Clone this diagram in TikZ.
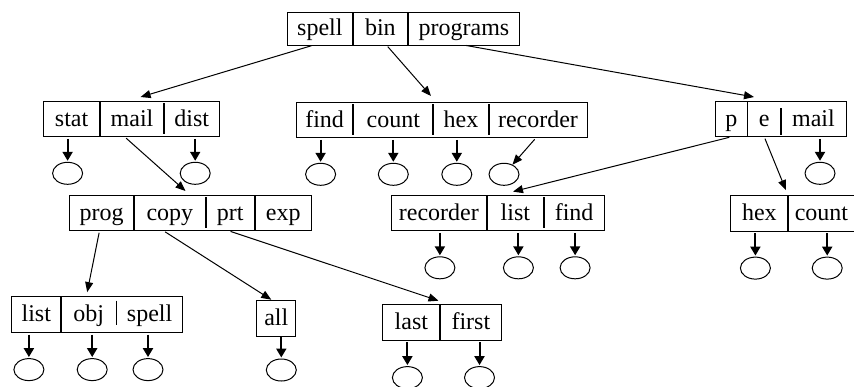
\documentclass[tikz,border=0pt]{standalone}
\usepackage{fontspec}
\setmainfont{Liberation Serif}
\usetikzlibrary{shapes,arrows.meta,positioning}

\begin{document}
\begin{tikzpicture}[x=0.5pt,y=-0.5pt,font=\fontsize{12}{14}\selectfont]
\tikzset{
cell/.style={rectangle, inner sep=0pt, minimum height=17.5pt, text height=9.5pt, text depth=2.3pt},
box/.style={draw, line width=0.5pt},
sep/.style={line width=1pt},
shortsep/.style={line width=1pt, shorten <=1.2pt, shorten >=1.5pt},
thinsep/.style={line width=0.5pt},
leaf/.style={ellipse, draw, line width=0.5pt, minimum width=15pt, minimum height=11pt, inner sep=0pt},
leafarrow/.style={-{Triangle[length=4.5pt,width=5pt]}, line width=1pt, shorten <=1pt, shorten >=0.5pt},
ptr/.style={-{Triangle[length=5pt,width=4pt]}, line width=0.5pt, shorten <=1pt},
}
\useasboundingbox (0,0) rectangle (854,386);

% root
\node [cell, minimum height=16pt, minimum width=32.2pt, anchor=north west] (spell1) at (287.3,12.3) {spell};
\node [cell, minimum height=16pt, minimum width=27.5pt, right=0pt of spell1] (bin1) {bin};
\node [cell, minimum height=16pt, minimum width=55.3pt, right=0pt of bin1] (programs1) {programs};

% second level
\node [cell, minimum width=27.9pt, anchor=north west] (stat1) at (43.3,101) {stat};
\node [cell, minimum width=31.7pt, right=0pt of stat1] (mail1) {mail};
\node [cell, minimum width=27.2pt, right=0pt of mail1] (dist1) {dist};

\node [cell, minimum width=28.2pt, anchor=north west] (find1) at (296,102) {find};
\node [cell, minimum width=39.7pt, right=0pt of find1] (count1) {count};
\node [cell, minimum width=27.2pt, right=0pt of count1] (hex1) {hex};
\node [cell, minimum width=49pt, right=0pt of hex1] (recorder1) {recorder};

\node [cell, minimum width=15.9pt, anchor=north west] (p1) at (715,101) {p};
\node [cell, minimum width=16.2pt, right=0pt of p1] (e1) {e};
\node [cell, minimum width=32.2pt, right=0pt of e1] (mail2) {mail};

% third level
\node [cell, minimum width=32pt, anchor=north west] (prog1) at (69.3,195) {prog};
\node [cell, minimum width=35.4pt, right=0pt of prog1] (copy1) {copy};
\node [cell, minimum width=24.2pt, right=0pt of copy1] (prt1) {prt};
\node [cell, minimum width=28pt, right=0pt of prt1] (exp1) {exp};

\node [cell, minimum width=47.5pt, anchor=north west] (recorder2) at (391,195) {recorder};
\node [cell, minimum width=28.2pt, right=0pt of recorder2] (list1) {list};
\node [cell, minimum width=29.7pt, right=0pt of list1] (find2) {find};

\node [cell, minimum width=28.3pt, anchor=north west] (hex2) at (730.7,195.3) {hex};
\node [cell, minimum width=32.9pt, right=0pt of hex2] (count2) {count};

% fourth level
\node [cell, minimum width=24.2pt, anchor=north west] (list2) at (11.7,296.7) {list};
\node [cell, minimum width=27.5pt, right=0pt of list2] (obj1) {obj};
\node [cell, minimum width=32.5pt, right=0pt of obj1] (spell2) {spell};

\node [cell, minimum width=19.2pt, anchor=north west] (all1) at (256.7,300.7) {all};

\node [cell, minimum width=28.3pt, anchor=north west] (last1) at (382.7,304.3) {last};
\node [cell, minimum width=30.4pt, right=0pt of last1] (first1) {first};

% boxes and separators
\draw[box] (spell1.north west) rectangle (programs1.south east);
\draw[sep] (spell1.north east) -- (spell1.south east);
\draw[sep] (bin1.north east) -- (bin1.south east);
\draw[box] (stat1.north west) rectangle (dist1.south east);
\draw[sep] (stat1.north east) -- (stat1.south east);
\draw[shortsep] (mail1.north east) -- (mail1.south east);
\draw[box] (find1.north west) rectangle (recorder1.south east);
\draw[shortsep] (find1.north east) -- (find1.south east);
\draw[shortsep] (count1.north east) -- (count1.south east);
\draw[shortsep] (hex1.north east) -- (hex1.south east);
\draw[box] (p1.north west) rectangle (mail2.south east);
\draw[thinsep] (p1.north east) -- (p1.south east);
\draw[sep, shorten <=3.5pt, shorten >=1pt] (e1.north east) -- (e1.south east);
\draw[box] (prog1.north west) rectangle (exp1.south east);
\draw[sep] (prog1.north east) -- (prog1.south east);
\draw[shortsep] (copy1.north east) -- (copy1.south east);
\draw[sep] (prt1.north east) -- (prt1.south east);
\draw[box] (recorder2.north west) rectangle (find2.south east);
\draw[sep] (recorder2.north east) -- (recorder2.south east);
\draw[shortsep] (list1.north east) -- (list1.south east);
\draw[box] (hex2.north west) rectangle (count2.south east);
\draw[sep] (hex2.north east) -- (hex2.south east);
\draw[box] (list2.north west) rectangle (spell2.south east);
\draw[sep] (list2.north east) -- (list2.south east);
\draw[thinsep, shorten <=2pt, shorten >=4pt] (obj1.north east) -- (obj1.south east);
\draw[box] (all1.north west) rectangle (all1.south east);
\draw[box] (last1.north west) rectangle (first1.south east);
\draw[sep] (last1.north east) -- (last1.south east);

% leaves
\node [leaf, below=12.5pt of stat1, xshift=-2pt] (leafstat) {};
\node [leaf, below=12.5pt of dist1, xshift=1.75pt] (leafdist) {};
\node [leaf, below=12.5pt of find1, xshift=-2pt] (leaffind) {};
\node [leaf, below=12.5pt of count1] (leafcount) {};
\node [leaf, below=12.5pt of hex1, xshift=-2.1pt] (leafhex) {};
\node [leaf, below=12.5pt of recorder1, xshift=-17pt] (leafrecorder) {};
\node [leaf, below=12.5pt of mail2, xshift=3.3pt] (leafmail) {};
\node [leaf, below=12.75pt of recorder2, xshift=0.5pt] (leafrecorder2) {};
\node [leaf, below=12.75pt of list1, xshift=1.5pt] (leaflist) {};
\node [leaf, below=12.75pt of find2, xshift=0.5pt] (leaffind2) {};
\node [leaf, below=12.75pt of hex2, xshift=-2pt] (leafhex2) {};
\node [leaf, below=12.75pt of count2, xshift=2.9pt] (leafcount2) {};
\node [leaf, below=12.8pt of list2, xshift=-3.7pt] (leaflist2) {};
\node [leaf, below=12.8pt of obj1, xshift=1.7pt] (leafobj) {};
\node [leaf, below=12.8pt of spell2, xshift=-0.8pt] (leafspell) {};
\node [leaf, below=11pt of all1, xshift=2.5pt] (leafall) {};
\node [leaf, below=13pt of last1, xshift=-2pt] (leaflast) {};
\node [leaf, below=13pt of first1, xshift=4.3pt] (leaffirst) {};

\draw[leafarrow] (leafstat |- stat1.south) -- (leafstat);
\draw[leafarrow] (leafdist |- dist1.south) -- (leafdist);
\draw[leafarrow] (leaffind |- find1.south) -- (leaffind);
\draw[leafarrow] (leafcount |- count1.south) -- (leafcount);
\draw[leafarrow] (leafhex |- hex1.south) -- (leafhex);
\draw[ptr] ([xshift=-1pt]recorder1.south) -- (leafrecorder);
\draw[leafarrow] (leafmail |- mail2.south) -- (leafmail);
\draw[leafarrow] (leafrecorder2 |- recorder2.south) -- (leafrecorder2);
\draw[leafarrow] (leaflist |- list1.south) -- (leaflist);
\draw[leafarrow] (leaffind2 |- find2.south) -- (leaffind2);
\draw[leafarrow] (leafhex2 |- hex2.south) -- (leafhex2);
\draw[leafarrow] (leafcount2 |- count2.south) -- (leafcount2);
\draw[leafarrow] (leaflist2 |- list2.south) -- (leaflist2);
\draw[leafarrow] (leafobj |- obj1.south) -- (leafobj);
\draw[leafarrow] (leafspell |- spell2.south) -- (leafspell);
\draw[leafarrow] ([yshift=1pt]leafall |- all1.south) -- (leafall);
\draw[leafarrow] (leaflast |- last1.south) -- (leaflast);
\draw[leafarrow] (leaffirst |- first1.south) -- (leaffirst);

% pointers
\draw[ptr] ([xshift=-3.2pt]spell1.south) -- ([xshift=4.3pt,yshift=2pt]mail1.north);
\draw[ptr] ([xshift=3pt]bin1.south) -- ([xshift=-1.2pt,yshift=3pt]count1.north east);
\draw[ptr] (programs1.south) -- ([xshift=3.2pt,yshift=2pt]e1.north west);
\draw[ptr] ([xshift=-3.7pt]mail1.south) -- ([xshift=7.8pt,yshift=2pt]copy1.north);
\draw[ptr] (p1.south) -- ([xshift=-1.2pt,yshift=1.7pt]list1.north);
\draw[ptr] (e1.south) -- ([xshift=-1.1pt,yshift=2.6pt]hex2.north east);
\draw[ptr] ([xshift=-1.1pt]prog1.south) -- ([xshift=-0.8pt,yshift=2.3pt]obj1.north);
\draw[ptr] ([xshift=-3.2pt]copy1.south) -- ([xshift=-2.5pt,yshift=0.5pt]all1.north);
\draw[ptr] ([xshift=-0.8pt]prt1.south) -- ([xshift=-0.8pt,yshift=1.8pt]first1.north west);
\end{tikzpicture}
\end{document}
